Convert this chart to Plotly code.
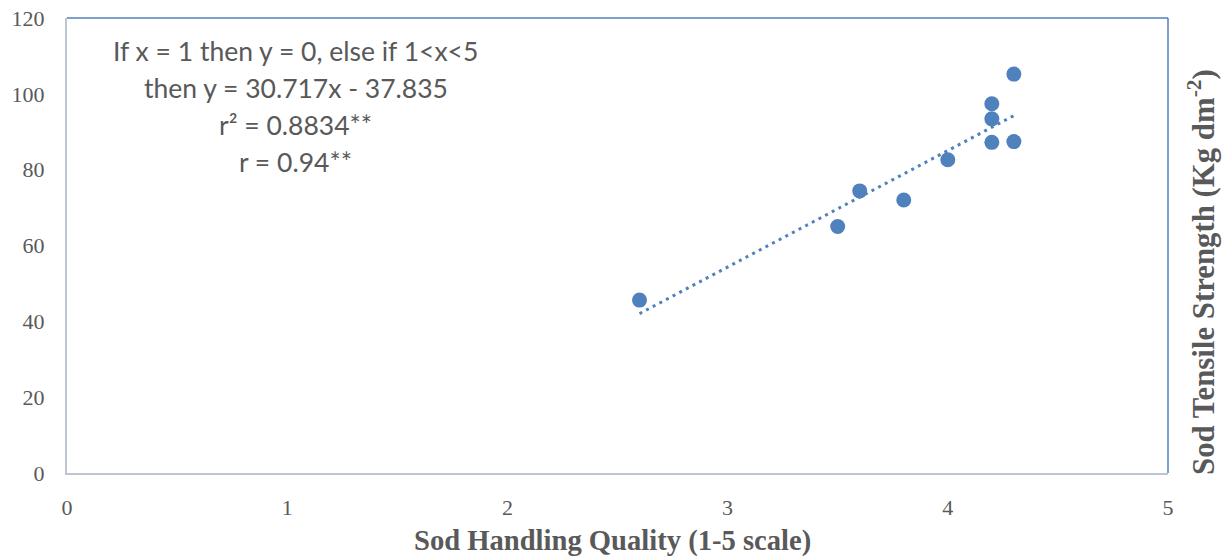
import plotly.graph_objects as go

handling_quality = [2.6, 3.5, 3.6, 3.8, 4.0, 4.2, 4.2, 4.2, 4.3, 4.3]
tensile_strength = [45.6, 65.0, 74.4, 72.0, 82.6, 97.4, 93.4, 87.2, 105.2, 87.4]
fit_slope = 30.717
fit_intercept = -37.835
x_ticks = [0, 1, 2, 3, 4, 5]
y_ticks = [0, 20, 40, 60, 80, 100, 120]
equation_lines = ["If x = 1 then y = 0, else if 1&lt;x&lt;5",
                  "then y = 30.717x - 37.835",
                  "r² = 0.8834**",
                  "r = 0.94**"]

blue = "#4f81bd"
gray_text = "#595959"

trend_x = [min(handling_quality), max(handling_quality)]
trend_y = [fit_slope * v + fit_intercept for v in trend_x]

fig = go.Figure()
fig.add_trace(go.Scatter(x=trend_x, y=trend_y, mode="lines",
                         line=dict(color=blue, width=3, dash="3px,4.5px"),
                         hoverinfo="skip", showlegend=False))
fig.add_trace(go.Scatter(x=handling_quality, y=tensile_strength, mode="markers",
                         marker=dict(color=blue, size=15, line=dict(width=0)),
                         showlegend=False))

plot_top, plot_bottom = 18, 473
plot_h = plot_bottom - plot_top

def py(pix):
    return (plot_bottom - pix) / plot_h

annotations = []
for i, line in enumerate(equation_lines):
    annotations.append(dict(xref="paper", yref="paper", x=(295.5 - 67) / 1101, y=py(51 + 37 * i),
                            xanchor="center", yanchor="middle", showarrow=False,
                            text=line, font=dict(family="Lato", size=26.5, color=gray_text)))
annotations.append(dict(xref="paper", yref="paper", x=(612 - 67) / 1101, y=py(541),
                        xanchor="center", yanchor="middle", showarrow=False,
                        text="<b>Sod Handling Quality (1-5 scale)</b>",
                        font=dict(family="Liberation Serif", size=28.6, color=gray_text)))
annotations.append(dict(xref="paper", yref="paper", x=1.0, xshift=33, y=py(272),
                        xanchor="center", yanchor="middle", showarrow=False, textangle=-90,
                        text="<b>Sod Tensile Strength (Kg dm<sup>-2</sup>)</b>",
                        font=dict(family="Liberation Serif", size=30.8, color=gray_text)))

fig.update_layout(
    width=1227, height=560,
    margin=dict(l=67, r=59, t=plot_top, b=560 - plot_bottom, autoexpand=False),
    paper_bgcolor="white", plot_bgcolor="white",
    font=dict(family="Liberation Serif", color=gray_text, size=22),
    xaxis=dict(range=[0, 5], tickvals=x_ticks, showgrid=False, zeroline=False,
               showline=True, linecolor="#bcc6d3", linewidth=2, ticks="",
               ticklabelstandoff=14, automargin=False,
               tickfont=dict(family="Liberation Serif", size=22, color=gray_text)),
    yaxis=dict(range=[0, 120], tickvals=y_ticks, showgrid=False, zeroline=False,
               showline=True, linecolor="#bcc6d3", linewidth=2, ticks="",
               ticklabelstandoff=16, automargin=False,
               tickfont=dict(family="Liberation Serif", size=22, color=gray_text)),
    shapes=[
        dict(type="line", xref="paper", yref="paper", x0=0, x1=1, y0=1, y1=1,
             line=dict(color=blue, width=1.5)),
        dict(type="line", xref="paper", yref="paper", x0=1, x1=1, y0=0, y1=1,
             line=dict(color=blue, width=1.5)),
    ],
    annotations=annotations,
)

fig.write_html("out.html", config={"displayModeBar": False},
               post_script="document.body.style.margin='0';document.body.style.overflow='hidden';")
